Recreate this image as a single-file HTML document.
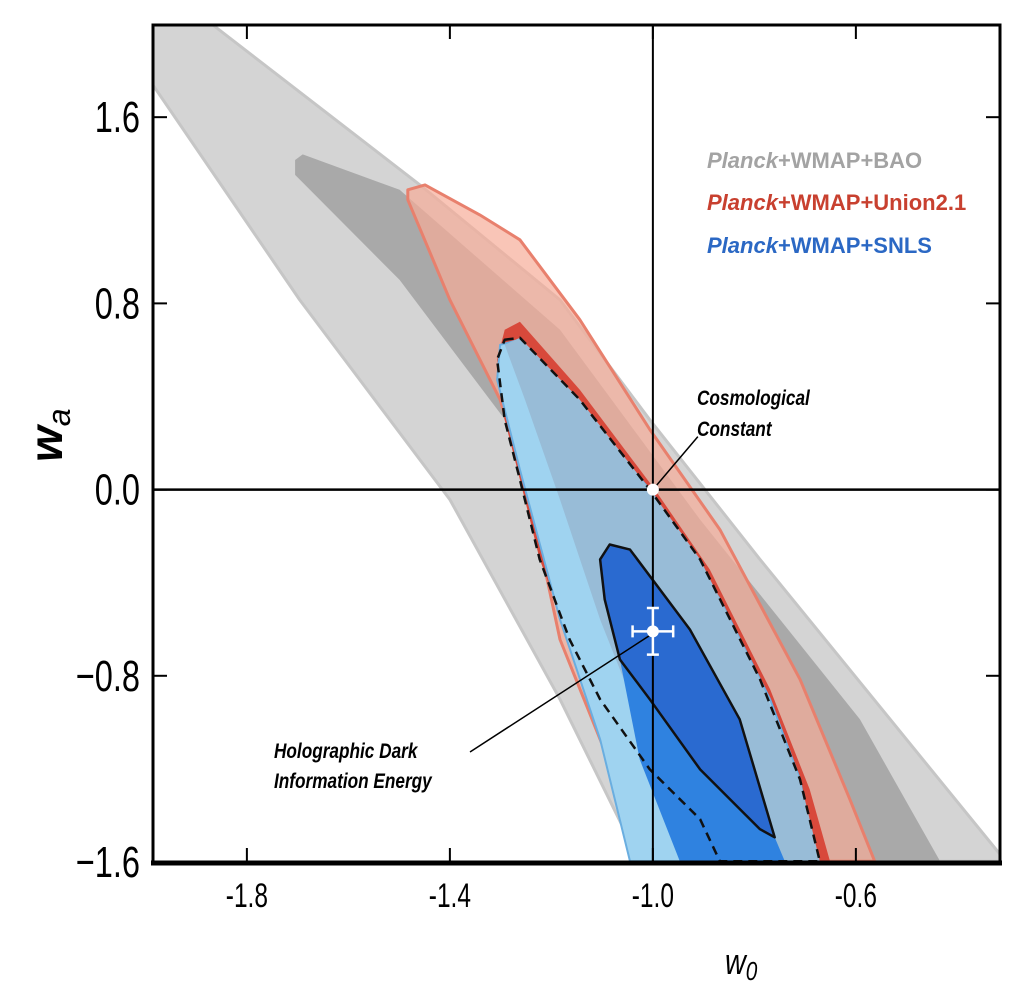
<!DOCTYPE html>
<html><head><meta charset="utf-8"><style>
body{margin:0;background:#fff;}
svg{display:block;font-family:"Liberation Sans",sans-serif;}
</style></head><body>
<svg id="chart" width="1024" height="996" viewBox="0 0 1024 996">
<defs><clipPath id="clip"><rect x="153" y="25" width="847" height="837"/></clipPath></defs>
<g id="regions" clip-path="url(#clip)"></g>
<g id="axes"></g>
<g id="ann"></g>
<g font-weight="bold" font-size="22">
<text x="707" y="168" fill="#a3a3a3"><tspan font-style="italic">Planck</tspan>+WMAP+BAO</text>
<text x="707" y="210" fill="#c8402f"><tspan font-style="italic">Planck</tspan>+WMAP+Union2.1</text>
<text x="707" y="253" fill="#2b68c4"><tspan font-style="italic">Planck</tspan>+WMAP+SNLS</text>
</g>
</svg>
<script>
const xDomain=[-1.985,-0.316];
const yDomain=[-1.6,1.996];
const xTicks=[-1.8,-1.4,-1.0,-0.6];
const xTickLabels=["-1.8","-1.4","-1.0","-0.6"];
const yTicks=[1.6,0.8,0.0,-0.8,-1.6];
const yTickLabels=["1.6","0.8","0.0","\u22120.8","\u22121.6"];
const baoOuter=[[-1.985,1.996],[-1.867,1.996],[-1.459,1.309],[-1.183,0.815],[-1.006,0.300],[-0.789,-0.300],[-0.316,-1.567],[-0.316,-1.597],[-1.026,-1.597],[-1.183,-0.901],[-1.400,-0.043],[-1.696,0.815],[-1.985,1.738]];
const baoInner=[[-1.705,1.416],[-1.690,1.440],[-1.499,1.288],[-1.183,0.687],[-0.907,-0.129],[-0.592,-0.987],[-0.434,-1.597],[-0.907,-1.597],[-1.065,-0.472],[-1.262,0.215],[-1.499,0.901],[-1.705,1.352]];
const unionOuter=[[-1.483,1.288],[-1.449,1.309],[-1.341,1.180],[-1.262,1.073],[-1.144,0.730],[-1.006,0.258],[-0.868,-0.172],[-0.710,-0.815],[-0.612,-1.330],[-0.563,-1.597],[-1.006,-1.597],[-1.104,-1.073],[-1.183,-0.644],[-1.242,-0.043],[-1.301,0.386],[-1.400,0.815],[-1.483,1.245]];
const unionInner=[[-1.292,0.687],[-1.262,0.721],[-1.144,0.429],[-0.996,0],[-0.888,-0.343],[-0.769,-0.858],[-0.691,-1.288],[-0.651,-1.597],[-0.868,-1.597],[-0.907,-1.416],[-1.006,-1.202],[-1.104,-0.901],[-1.164,-0.644],[-1.223,-0.300],[-1.262,0.043],[-1.292,0.300],[-1.307,0.558]];
const snlsOuter=[[-1.301,0.622],[-1.262,0.644],[-1.006,0],[-0.868,-0.472],[-0.769,-0.901],[-0.710,-1.245],[-0.681,-1.597],[-1.045,-1.597],[-1.104,-1.073],[-1.183,-0.558],[-1.262,0.086],[-1.307,0.472]];
const snlsMid=[[-1.292,0.622],[-1.262,0.652],[-1.144,0.386],[-1.006,0],[-0.907,-0.300],[-0.789,-0.815],[-0.710,-1.245],[-0.671,-1.597],[-0.789,-1.597],[-0.907,-1.330],[-1.026,-0.987],[-1.104,-0.558],[-1.183,-0.043],[-1.252,0.386]];
const snlsDashed=[[-1.292,0.644],[-1.262,0.652],[-1.144,0.386],[-1.006,0],[-0.907,-0.300],[-0.789,-0.815],[-0.710,-1.245],[-0.671,-1.597],[-0.868,-1.597],[-0.907,-1.416],[-1.006,-1.202],[-1.104,-0.901],[-1.164,-0.644],[-1.223,-0.300],[-1.262,0.043],[-1.292,0.300],[-1.307,0.558]];
const snlsBright=[[-1.065,-0.730],[-0.907,-1.202],[-0.789,-1.459],[-0.760,-1.494],[-0.740,-1.597],[-0.947,-1.597],[-1.026,-1.159]];
const snlsInner=[[-1.104,-0.300],[-1.085,-0.236],[-1.045,-0.258],[-0.927,-0.601],[-0.829,-0.987],[-0.760,-1.494],[-0.789,-1.459],[-0.907,-1.202],[-1.006,-0.901],[-1.065,-0.730],[-1.095,-0.472]];
const lambdaPoint=[-1.0,0.0];
const hdiePoint=[-1.0,-0.609];
const hdieErrX=0.04;
const hdieErrY=0.10;

const X0=153,X1=1000,Y0=862,Y1=25;
function sx(v){return X0+(v-xDomain[0])/(xDomain[1]-xDomain[0])*(X1-X0);}
function sy(v){return Y0-(v-yDomain[0])/(yDomain[1]-yDomain[0])*(Y0-Y1);}
const NS="http://www.w3.org/2000/svg";
function mk(tag,attrs,parent){const e=document.createElementNS(NS,tag);for(const k in attrs)e.setAttribute(k,attrs[k]);parent.appendChild(e);return e;}
function pts(a){return a.map(p=>sx(p[0]).toFixed(1)+","+sy(p[1]).toFixed(1)).join(" ");}
const R=document.getElementById('regions');
function poly(arr,name,attrs){const e=mk('polygon',Object.assign({points:pts(arr),'stroke-linejoin':'round'},attrs),R);

return e;}
poly(baoOuter,'bao-2sigma-region',{fill:'#d4d4d4',stroke:'#c6c6c6','stroke-width':3});
poly(baoInner,'bao-1sigma-region',{fill:'#a9a9a9'});
poly(unionOuter,'union-2sigma-region',{fill:'#f7ad98','fill-opacity':0.7,stroke:'#e8806d','stroke-width':3});
poly(unionInner,'union-1sigma-region',{fill:'#d8493b'});
poly(snlsOuter,'snls-2sigma-region',{fill:'#9fd3f0',stroke:'#6aaee0','stroke-width':2});
poly(snlsMid,'snls-mid-region',{fill:'#98bcd7'});
poly(snlsBright,'snls-bright-region',{fill:'#2f82e0'});
poly(snlsDashed,'snls-dashed-contour',{fill:'none',stroke:'#111','stroke-width':2.5,'stroke-dasharray':'9,6'});
poly(snlsInner,'snls-1sigma-region',{fill:'#2a6ad0',stroke:'#111','stroke-width':2.5});
let l=mk('line',{x1:sx(lambdaPoint[0]),x2:sx(lambdaPoint[0]),y1:Y1,y2:Y0,stroke:'#000','stroke-width':2},R);


l=mk('line',{x1:X0,x2:X1,y1:sy(lambdaPoint[1]),y2:sy(lambdaPoint[1]),stroke:'#000','stroke-width':2.5},R);



const A=document.getElementById('axes');
let fr=mk('rect',{x:X0,y:Y1,width:X1-X0,height:Y0-Y1,fill:'none',stroke:'#000','stroke-width':3},A);


mk('line',{x1:X0-2,x2:X1+2,y1:Y0+1,y2:Y0+1,stroke:'#000','stroke-width':5},A);
xTicks.forEach((t,i)=>{const x=sx(t);
let a=mk('line',{x1:x,x2:x,y1:Y0,y2:Y0-14,stroke:'#000','stroke-width':2},A);


mk('line',{x1:x,x2:x,y1:Y1,y2:Y1+14,stroke:'#000','stroke-width':2},A);
let tx=mk('text',{x:x,y:907,'font-size':34,'text-anchor':'middle',transform:`translate(${x},0) scale(0.72,1) translate(${-x},0)`},A);
tx.textContent=xTickLabels[i];

});
yTicks.forEach((t,i)=>{const y=sy(t);
let a=mk('line',{x1:X0,x2:X0+14,y1:y,y2:y,stroke:'#000','stroke-width':2},A);


mk('line',{x1:X1,x2:X1-14,y1:y,y2:y,stroke:'#000','stroke-width':2},A);
let tx=mk('text',{x:140,y:y+15,'font-size':44,'text-anchor':'end',transform:`translate(140,0) scale(0.74,1) translate(-140,0)`},A);
tx.textContent=yTickLabels[i];

});
let xt=mk('text',{x:725,y:974,'font-size':36,'font-style':'italic',transform:'translate(725,0) scale(0.8,1) translate(-725,0)'},A);
xt.innerHTML='w<tspan font-size="26" dy="6">0</tspan>';


let yt=mk('text',{x:0,y:0,'font-size':46,'font-style':'italic','font-weight':'bold',transform:'translate(62,462) rotate(-90)'},A);
yt.innerHTML='w<tspan font-size="32" font-weight="normal" dy="8">a</tspan>';



const N=document.getElementById('ann');
const lx=sx(lambdaPoint[0]),ly=sy(lambdaPoint[1]);
mk('line',{x1:lx,y1:ly,x2:lx+45,y2:ly-53,stroke:'#000','stroke-width':1.5},N);
let c=mk('circle',{cx:lx,cy:ly,r:6,fill:'#fff'},N);


const hx=sx(hdiePoint[0]),hy=sy(hdiePoint[1]);
mk('line',{x1:hx-3,y1:hy+4,x2:470,y2:752,stroke:'#000','stroke-width':1.5},N);
const ex=sx(hdiePoint[0]+hdieErrX)-hx, ey=hy-sy(hdiePoint[1]+hdieErrY);
let eb=mk('path',{d:`M${hx-ex},${hy}H${hx+ex}M${hx-ex},${hy-6}V${hy+6}M${hx+ex},${hy-6}V${hy+6}M${hx},${hy-ey}V${hy+ey}M${hx-6},${hy-ey}H${hx+6}M${hx-6},${hy+ey}H${hx+6}`,stroke:'#fff','stroke-width':2.5,fill:'none'},N);


c=mk('circle',{cx:hx,cy:hy,r:6,fill:'#fff'},N);


function lab(txt,x,y,anchor,name){let t=mk('text',{x:x,y:y,'font-size':21,'font-weight':'bold','font-style':'italic','text-anchor':anchor,transform:`translate(${x},0) scale(0.82,1) translate(${-x},0)`},N);t.textContent=txt;

}
lab('Cosmological',697,405,'start','cosmological-constant-label');
lab('Constant',697,436,'start','cosmological-constant-label-line2');
lab('Holographic Dark',274,758,'start','hdie-label');
lab('Information Energy',274,788,'start','hdie-label-line2');
</script>
</body></html>
